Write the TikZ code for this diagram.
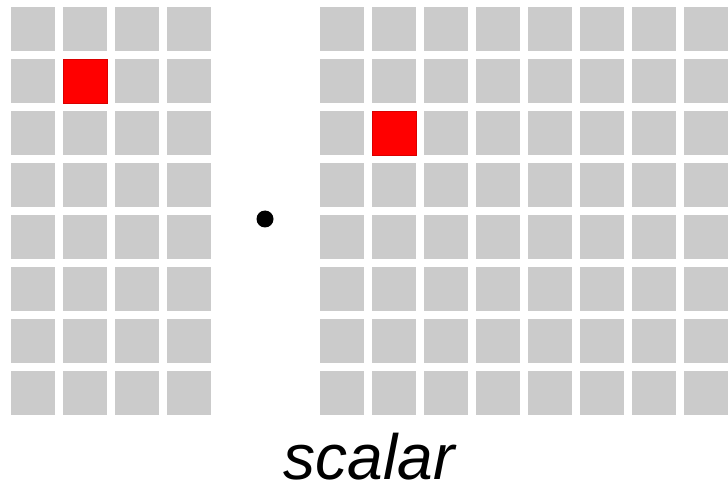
\documentclass[tikz,border=0pt]{standalone}
\usepackage{fontspec}
\setmainfont{Liberation Sans}
\definecolor{cellgray}{HTML}{CBCBCB}
\definecolor{hitred}{HTML}{FF0000}
\begin{document}
\begin{tikzpicture}[x=1pt,y=-1pt,
  cell/.style={minimum size=44pt,inner sep=0pt,outer sep=0pt,fill=cellgray},
  hit/.style={minimum size=44pt,inner sep=0pt,outer sep=0pt,fill=hitred,draw=hitred!85!black,line width=0.6pt},
  label/.style={font=\fontsize{64}{64}\selectfont\itshape,inner sep=0pt,text depth=0pt}]
\useasboundingbox (0,0) rectangle (728,489);
% left matrix: 4 columns x 8 rows
\foreach \c in {0,...,3}
  \foreach \r in {0,...,7}
    \node[cell] (L-\c-\r) at (33+52*\c, 29+52*\r) {};
\node[hit] (Lsel) at (L-1-1) {};
% right matrix: 8 columns x 8 rows
\foreach \c in {0,...,7}
  \foreach \r in {0,...,7}
    \node[cell] (R-\c-\r) at (342+52*\c, 29+52*\r) {};
\node[hit] (Rsel) at (R-1-2) {};
% dot product operator
\node[circle,fill=black,inner sep=0pt,minimum size=17pt] (dot) at (265,219) {};
% caption
\node[label,anchor=base] (cap) at (369,479) {scalar};
\end{tikzpicture}
\end{document}
